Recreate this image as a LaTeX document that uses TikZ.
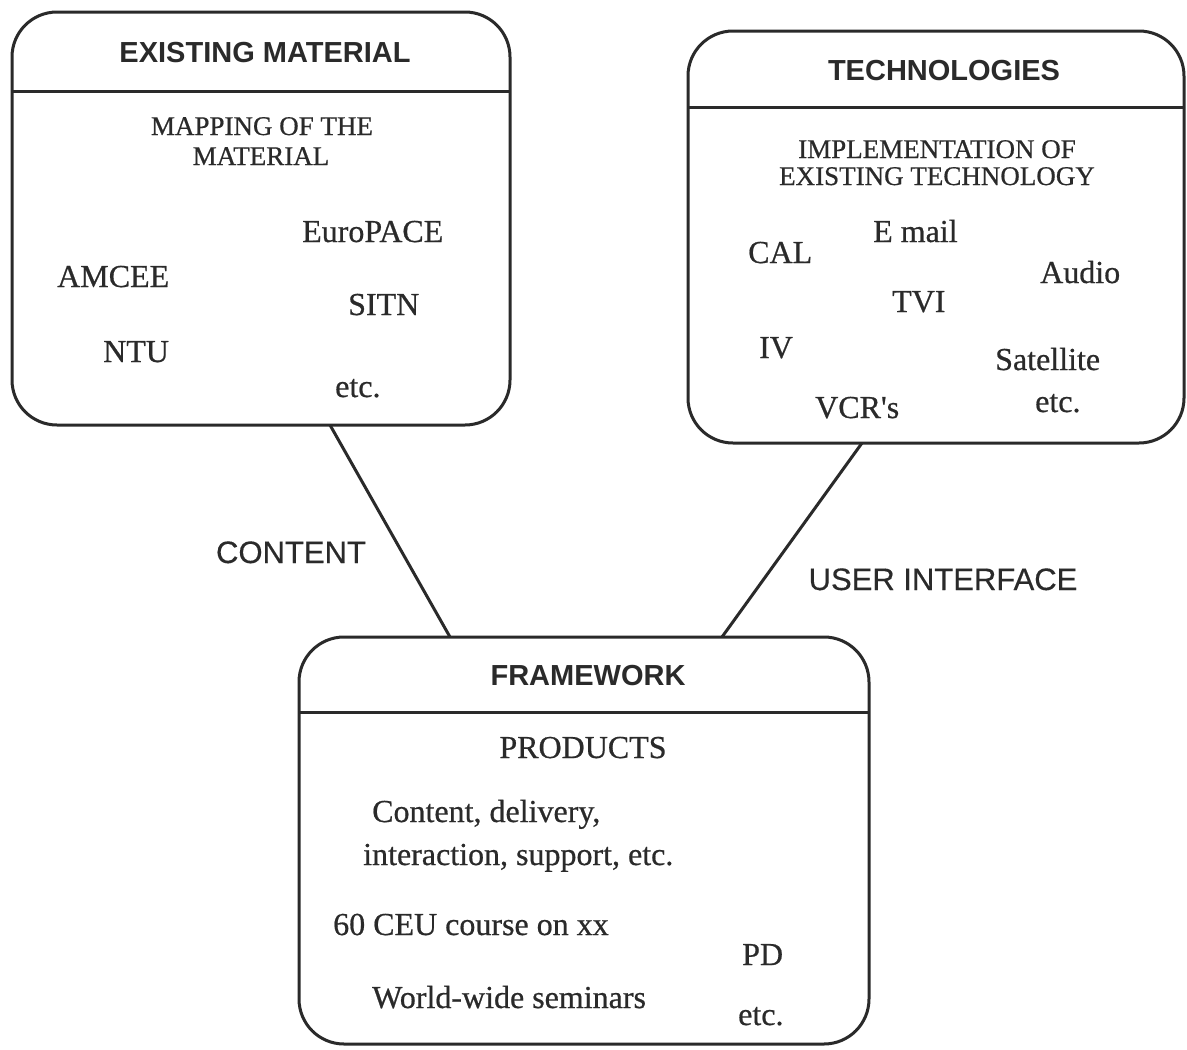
\documentclass[tikz,border=0pt]{standalone}
\usepackage{fontspec}
\setmainfont{Liberation Serif}[FakeBold=0.6]
\setsansfont{Liberation Sans}
\newfontfamily\lblfont{Liberation Sans}[FakeBold=0.4]
\definecolor{ink}{RGB}{42,42,42}
\tikzset{
 panel/.style={draw=ink, line width=3pt, rounded corners=45pt, inner sep=0pt, outer sep=0pt},
 ptitle/.style={anchor=base, text=ink, font=\sffamily\bfseries\fontsize{29}{34}\selectfont, inner sep=0pt},
 phead/.style={anchor=base, text=ink, font=\fontsize{27}{32}\selectfont, inner sep=0pt},
 pitem/.style={anchor=base west, text=ink, font=\fontsize{32}{37}\selectfont, inner sep=0pt},
 pcitem/.style={anchor=base, text=ink, font=\fontsize{32}{37}\selectfont, inner sep=0pt},
 plabel/.style={anchor=base, text=ink, font=\lblfont\fontsize{31}{36}\selectfont, inner sep=0pt},
 link/.style={draw=ink, line width=3pt},
 divider/.style={draw=ink, line width=3pt}
}
\begin{document}
\begin{tikzpicture}[x=1pt,y=-1pt]
\useasboundingbox[fill=white] (0,0) rectangle (1187,1050);

% panels
\node[panel, minimum width=498pt, minimum height=413pt] (mat) at (261,218.5) {};
\node[panel, minimum width=496pt, minimum height=412pt] (tech) at (936,237) {};
\node[panel, minimum width=570pt, minimum height=407pt] (frm) at (584,840.5) {};

% dividers
\draw[divider] ([yshift=-79pt]mat.north west) -- ([yshift=-79pt]mat.north east);
\draw[divider] ([yshift=-76pt]tech.north west) -- ([yshift=-76pt]tech.north east);
\draw[divider] ([yshift=-75pt]frm.north west) -- ([yshift=-75pt]frm.north east);

% connectors
\draw[link] ([xshift=69pt]mat.south) -- ([xshift=-134pt]frm.north);
\draw[link] ([xshift=-74pt]tech.south) -- ([xshift=138pt]frm.north);

% titles
\node[ptitle] (t1) at (265,62) {EXISTING MATERIAL};
\node[ptitle] (t2) at (944,80) {TECHNOLOGIES};
\node[ptitle] (t3) at (588,685) {FRAMEWORK};

% existing material
\node[phead] (h1a) at (262,135) {MAPPING OF THE};
\node[phead] (h1b) at (261,165) {MATERIAL};
\node[pitem] (europace) at (302,242) {EuroPACE};
\node[pitem] (amcee) at (57,287) {AMCEE};
\node[pitem] (sitn) at (348,315) {SITN};
\node[pitem] (ntu) at (103,362) {NTU};
\node[pitem] (etc1) at (335,397) {etc.};

% technologies
\node[phead] (h2a) at (937,158) {IMPLEMENTATION OF};
\node[phead] (h2b) at (937,185) {EXISTING TECHNOLOGY};
\node[pitem] (email) at (873,242) {E mail};
\node[pitem] (cal) at (748,263) {CAL};
\node[pitem] (audio) at (1040,283) {Audio};
\node[pitem] (tvi) at (892,312) {TVI};
\node[pitem] (iv) at (759,358) {IV};
\node[pitem] (sat) at (995,370) {Satellite};
\node[pitem] (vcr) at (815,418) {VCR\textquotesingle s};
\node[pitem] (etc2) at (1035,412) {etc.};

% framework
\node[pcitem] (prod) at (583,758) {PRODUCTS};
\node[pitem] (cd) at (372,822) {Content, delivery,};
\node[pitem] (ia) at (363,865) {interaction, support, etc.};
\node[pitem] (ceu) at (333,935) {60 CEU course on xx};
\node[pitem] (pd) at (742,965) {PD};
\node[pitem] (wws) at (372,1008) {World-wide seminars};
\node[pitem] (etc3) at (738,1025) {etc.};

% connector labels
\node[plabel] (lcontent) at (291,563) {CONTENT};
\node[plabel] (luser) at (943,590) {USER INTERFACE};
\end{tikzpicture}
\end{document}
